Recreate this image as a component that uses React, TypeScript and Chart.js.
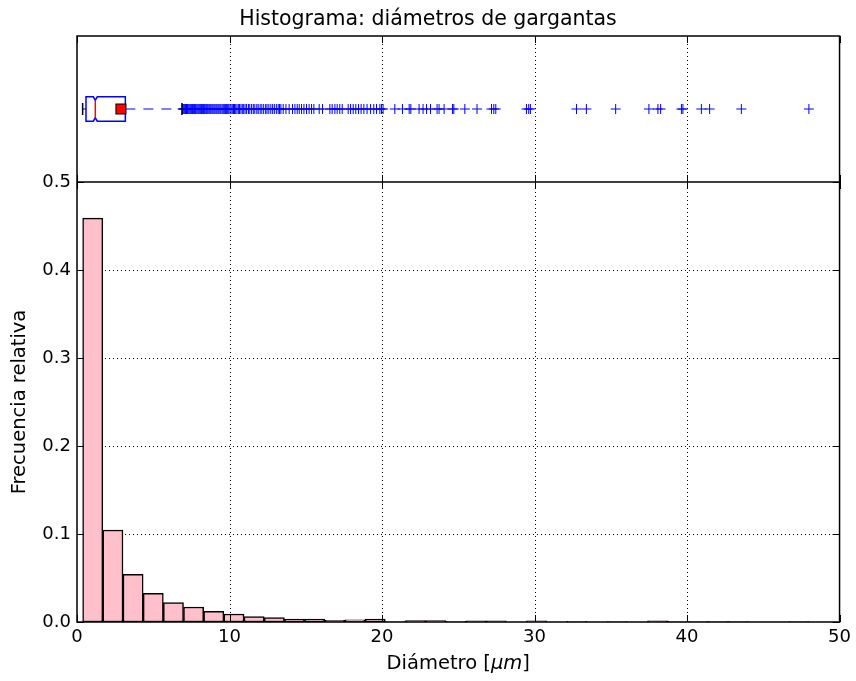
import React, { useEffect, useRef } from "react";
import { Chart, registerables } from "chart.js";

Chart.register(...registerables);

// ---------- data ----------
const chartTitle = "Histograma: diámetros de gargantas";
const yAxisTitle = "Frecuencia relativa";
const xAxisTitleMain = "Diámetro [";
const xAxisTitleMath = "μm";
const xAxisTitleEnd = "]";

const xTicks = [0, 10, 20, 30, 40, 50];
const yTicks = [0.0, 0.1, 0.2, 0.3, 0.4, 0.5];

// histogram: range of the data and relative frequency per bin
const binMin = 0.37;
const binMax = 47.99;
const relFreq = [
  0.459, 0.1045, 0.0542, 0.0326, 0.022, 0.017, 0.0121, 0.0091, 0.0061, 0.0049,
  0.0034, 0.0034, 0.0019, 0.0026, 0.0034, 0.0006, 0.0016, 0.0016, 0.0008, 0.0012,
  0.0012, 0, 0.0012, 0, 0.0008, 0, 0.0004, 0, 0.0012, 0.0008,
  0.0004, 0.0004, 0.0004, 0, 0, 0.0004,
];

// box plot statistics
const whiskerLow = 0.37;
const q1 = 0.59;
const median = 1.2;
const notchLow = 1.07;
const notchHigh = 1.33;
const q3 = 3.17;
const whiskerHigh = 6.88;
const mean = 2.88;

// outliers (fliers)
const outliers = [
  6.92, 6.97, 7.03, 7.08, 7.12, 7.18, 7.24, 7.29, 7.35, 7.41, 7.46, 7.52, 7.57, 7.63,
  7.7, 7.76, 7.81, 7.87, 7.93, 7.99, 8.05, 8.11, 8.17, 8.22, 8.29, 8.35, 8.41, 8.48,
  8.54, 8.6, 8.67, 8.73, 8.79, 8.86, 8.92, 8.99, 9.05, 9.12, 9.18, 9.25, 9.31, 9.38,
  9.44, 9.52, 9.59, 9.66, 9.73, 9.81, 9.88, 9.95, 10.03, 10.1, 10.18, 10.26, 10.33,
  10.41, 10.49, 10.58, 10.66, 10.75, 10.84, 10.93, 11.02, 11.12, 11.24, 11.33, 11.45,
  11.56, 11.66, 11.79, 11.88, 12.01, 12.12, 12.24, 12.37, 12.46, 12.58, 12.71, 12.83,
  12.94, 13.07, 13.19, 13.28, 13.37, 13.52, 13.7, 13.91, 14.13, 14.29, 14.44, 14.57,
  14.72, 14.88, 15.05, 15.22, 15.38, 15.53, 15.88, 16.1, 16.58, 16.73, 16.91, 17.06,
  17.23, 17.39, 17.78, 17.94, 18.11, 18.28, 18.46, 18.63, 18.81, 19.02, 19.25, 19.46,
  19.64, 19.86, 19.97, 20.07, 20.84, 21.34, 21.78, 21.89, 22.43, 22.69, 22.92, 23.18,
  23.61, 23.74, 24.07, 24.62, 24.71, 25.43, 26.23, 27.18, 27.33, 27.46, 29.47, 29.62,
  29.73, 32.75, 33.4, 35.32, 37.5, 38.09, 38.27, 39.63, 39.73, 40.94, 41.48, 43.56,
  47.99,
];

// ---------- styles ----------
const FONT = "DejaVu Sans";
const PINK = "#ffc0cb";
const BLUE = "#0000ff";
const RED = "#ff0000";
const TICK_SIZE = 18;
const LABEL_SIZE = 19.5;
const TITLE_SIZE = 20.5;

const boxY = 1; // vertical position of the box in the top panel
const boxHalf = 0.167;

export default function App() {
  const ref = useRef<HTMLCanvasElement | null>(null);

  useEffect(() => {
    if (!ref.current) return;
    const binW = (binMax - binMin) / relFreq.length;
    const histData = relFreq.map((v, i) => ({ x: binMin + (i + 0.5) * binW, y: v }));
    const fliers = outliers.map((v) => ({ x: v, y: boxY }));

    const gridPlugin = {
      id: "gridPlugin",
      beforeDatasetsDraw(chart: any) {
        const { ctx, chartArea } = chart;
        const xs = chart.scales.x;
        const ys = chart.scales.y;
        ctx.save();
        ctx.strokeStyle = "#000";
        ctx.lineWidth = 1;
        ctx.setLineDash([1, 3]);
        for (const t of xTicks) {
          if (t === xTicks[0] || t === xTicks[xTicks.length - 1]) continue;
          const x = Math.round(xs.getPixelForValue(t)) + 0.5;
          ctx.beginPath();
          ctx.moveTo(x, chartArea.top);
          ctx.lineTo(x, chartArea.bottom);
          ctx.stroke();
        }
        for (const t of yTicks) {
          if (t === yTicks[0] || t === yTicks[yTicks.length - 1]) continue;
          const y = Math.round(ys.getPixelForValue(t)) + 0.5;
          ctx.beginPath();
          ctx.moveTo(chartArea.left, y);
          ctx.lineTo(chartArea.right, y);
          ctx.stroke();
        }
        ctx.restore();
      },
    };

    const boxPlugin = {
      id: "boxPlugin",
      afterDatasetsDraw(chart: any) {
        const { ctx } = chart;
        const xs = chart.scales.x;
        const yt = chart.scales.yTop;
        const px = (v: number) => xs.getPixelForValue(v);
        const yc = yt.getPixelForValue(boxY);
        const hh = Math.abs(yt.getPixelForValue(boxY + boxHalf) - yc);
        ctx.save();
        // whiskers
        ctx.strokeStyle = BLUE;
        ctx.lineWidth = 1.2;
        ctx.setLineDash([10, 8]);
        ctx.beginPath();
        ctx.moveTo(px(q3), yc);
        ctx.lineTo(px(whiskerHigh), yc);
        ctx.moveTo(px(q1), yc);
        ctx.lineTo(px(whiskerLow), yc);
        ctx.stroke();
        ctx.setLineDash([]);
        // caps
        ctx.strokeStyle = "#000";
        ctx.lineWidth = 1.5;
        ctx.beginPath();
        for (const w of [whiskerLow, whiskerHigh]) {
          ctx.moveTo(px(w), yc - hh / 2);
          ctx.lineTo(px(w), yc + hh / 2);
        }
        ctx.stroke();
        // notched box
        ctx.strokeStyle = BLUE;
        ctx.lineWidth = 1.5;
        ctx.fillStyle = "#fff";
        ctx.beginPath();
        ctx.moveTo(px(q1), yc - hh);
        ctx.lineTo(px(notchLow), yc - hh);
        ctx.lineTo(px(median), yc - hh * 0.72);
        ctx.lineTo(px(notchHigh), yc - hh);
        ctx.lineTo(px(q3), yc - hh);
        ctx.lineTo(px(q3), yc + hh);
        ctx.lineTo(px(notchHigh), yc + hh);
        ctx.lineTo(px(median), yc + hh * 0.72);
        ctx.lineTo(px(notchLow), yc + hh);
        ctx.lineTo(px(q1), yc + hh);
        ctx.closePath();
        ctx.fill();
        ctx.stroke();
        // median
        ctx.strokeStyle = RED;
        ctx.lineWidth = 1.5;
        ctx.beginPath();
        ctx.moveTo(px(median), yc - hh * 0.72);
        ctx.lineTo(px(median), yc + hh * 0.72);
        ctx.stroke();
        // mean
        const s = 10;
        ctx.fillStyle = RED;
        ctx.strokeStyle = "#000";
        ctx.lineWidth = 1;
        ctx.fillRect(px(mean) - s / 2, yc - s / 2, s, s);
        ctx.strokeRect(px(mean) - s / 2, yc - s / 2, s, s);
        ctx.restore();
      },
    };

    const framePlugin = {
      id: "framePlugin",
      afterDraw(chart: any) {
        const { ctx, chartArea } = chart;
        const xs = chart.scales.x;
        const ys = chart.scales.y;
        const sep = ys.top;
        const L = chartArea.left, R = chartArea.right, T = chartArea.top, B = chartArea.bottom;
        ctx.save();
        ctx.strokeStyle = "#000";
        // inside ticks
        ctx.lineWidth = 1;
        ctx.beginPath();
        const tl = 7;
        for (const t of xTicks) {
          const x = Math.round(xs.getPixelForValue(t)) + 0.5;
          ctx.moveTo(x, B);
          ctx.lineTo(x, B - tl);
          ctx.moveTo(x, sep);
          ctx.lineTo(x, sep + tl);
          ctx.moveTo(x, sep);
          ctx.lineTo(x, sep - tl);
          ctx.moveTo(x, T);
          ctx.lineTo(x, T + tl);
        }
        for (const t of yTicks) {
          const y = Math.round(ys.getPixelForValue(t)) + 0.5;
          ctx.moveTo(L, y);
          ctx.lineTo(L + tl, y);
          ctx.moveTo(R, y);
          ctx.lineTo(R - tl, y);
        }
        ctx.stroke();
        // frames
        ctx.lineWidth = 1.5;
        ctx.strokeRect(L, T, R - L, B - T);
        ctx.beginPath();
        ctx.moveTo(L, sep);
        ctx.lineTo(R, sep);
        ctx.stroke();
        // figure title (centred on the figure)
        ctx.fillStyle = "#000";
        ctx.textAlign = "center";
        ctx.textBaseline = "middle";
        ctx.font = `normal ${TITLE_SIZE}px "${FONT}"`;
        ctx.fillText(chartTitle, chart.width / 2, 19.8);
        // x axis title with math part
        ctx.textBaseline = "middle";
        const fN = `normal ${LABEL_SIZE}px "${FONT}"`;
        const fI = `italic ${LABEL_SIZE}px "${FONT}"`;
        ctx.font = fN;
        const w1 = ctx.measureText(xAxisTitleMain).width;
        const w3 = ctx.measureText(xAxisTitleEnd).width;
        ctx.font = fI;
        const w2 = ctx.measureText(xAxisTitleMath).width;
        const total = w1 + w2 + w3;
        let x0 = (L + R) / 2 - total / 2;
        const ty = 664;
        ctx.textAlign = "left";
        ctx.font = fN;
        ctx.fillText(xAxisTitleMain, x0, ty);
        x0 += w1;
        ctx.font = fI;
        ctx.fillText(xAxisTitleMath, x0, ty);
        x0 += w2;
        ctx.font = fN;
        ctx.fillText(xAxisTitleEnd, x0, ty);
        ctx.restore();
      },
    };

    const chart = new Chart(ref.current, {
      type: "bar",
      data: {
        datasets: [
          {
            type: "bar",
            data: histData,
            xAxisID: "x",
            yAxisID: "y",
            backgroundColor: PINK,
            borderColor: "#000",
            borderWidth: 1.5,
            borderSkipped: false,
            barPercentage: 1,
            categoryPercentage: 1,
            grouped: false,
          } as any,
          {
            type: "scatter",
            data: fliers,
            xAxisID: "x",
            yAxisID: "yTop",
            pointStyle: "cross",
            pointRadius: 5,
            pointBorderWidth: 1,
            borderColor: BLUE,
            backgroundColor: BLUE,
            showLine: false,
          } as any,
        ],
      },
      options: {
        responsive: false,
        animation: false,
        events: [],
        layout: { padding: { left: 0, right: 16, top: 36, bottom: 0 } },
        plugins: {
          legend: { display: false },
          tooltip: { enabled: false },
          title: { display: false },
        },
        scales: {
          x: {
            type: "linear",
            min: 0,
            max: 50,
            offset: false,
            grid: { display: false, offset: false, drawTicks: false },
            border: { display: false },
            afterBuildTicks: (s: any) => {
              s.ticks = xTicks.map((v) => ({ value: v }));
            },
            afterFit: (s: any) => {
              s.height = 59;
            },
            ticks: {
              color: "#000",
              font: { family: FONT, size: TICK_SIZE },
              padding: 5,
              maxRotation: 0,
              callback: (v: any) => String(v),
            },
          },
          y: {
            type: "linear",
            position: "left",
            stack: "panels",
            stackWeight: 440,
            weight: 0,
            min: 0,
            max: 0.5,
            grid: { display: false, drawTicks: false },
            border: { display: false },
            afterBuildTicks: (s: any) => {
              s.ticks = yTicks.map((v) => ({ value: v }));
            },
            afterFit: (s: any) => {
              s.width = 77;
            },
            ticks: {
              color: "#000",
              font: { family: FONT, size: TICK_SIZE },
              padding: 6,
              callback: (v: any) => Number(v).toFixed(1),
            },
            title: {
              display: true,
              text: yAxisTitle,
              color: "#000",
              font: { family: FONT, size: LABEL_SIZE },
              padding: { top: 8, bottom: 0 },
            },
          },
          yTop: {
            type: "linear",
            position: "left",
            stack: "panels",
            stackWeight: 146,
            weight: 1,
            min: 0,
            max: 2,
            grid: { display: false, drawTicks: false },
            border: { display: false },
            ticks: { display: false },
            afterFit: (s: any) => {
              s.width = 77;
            },
          },
        },
      } as any,
      plugins: [gridPlugin, boxPlugin, framePlugin],
    });
    return () => chart.destroy();
  }, []);

  return (
    <div style={{ position: "fixed", left: 0, top: 0, width: 856, height: 681, background: "#fff" }}>
      <canvas ref={ref} width={856} height={681} style={{ display: "block", width: 856, height: 681 }} />
    </div>
  );
}
